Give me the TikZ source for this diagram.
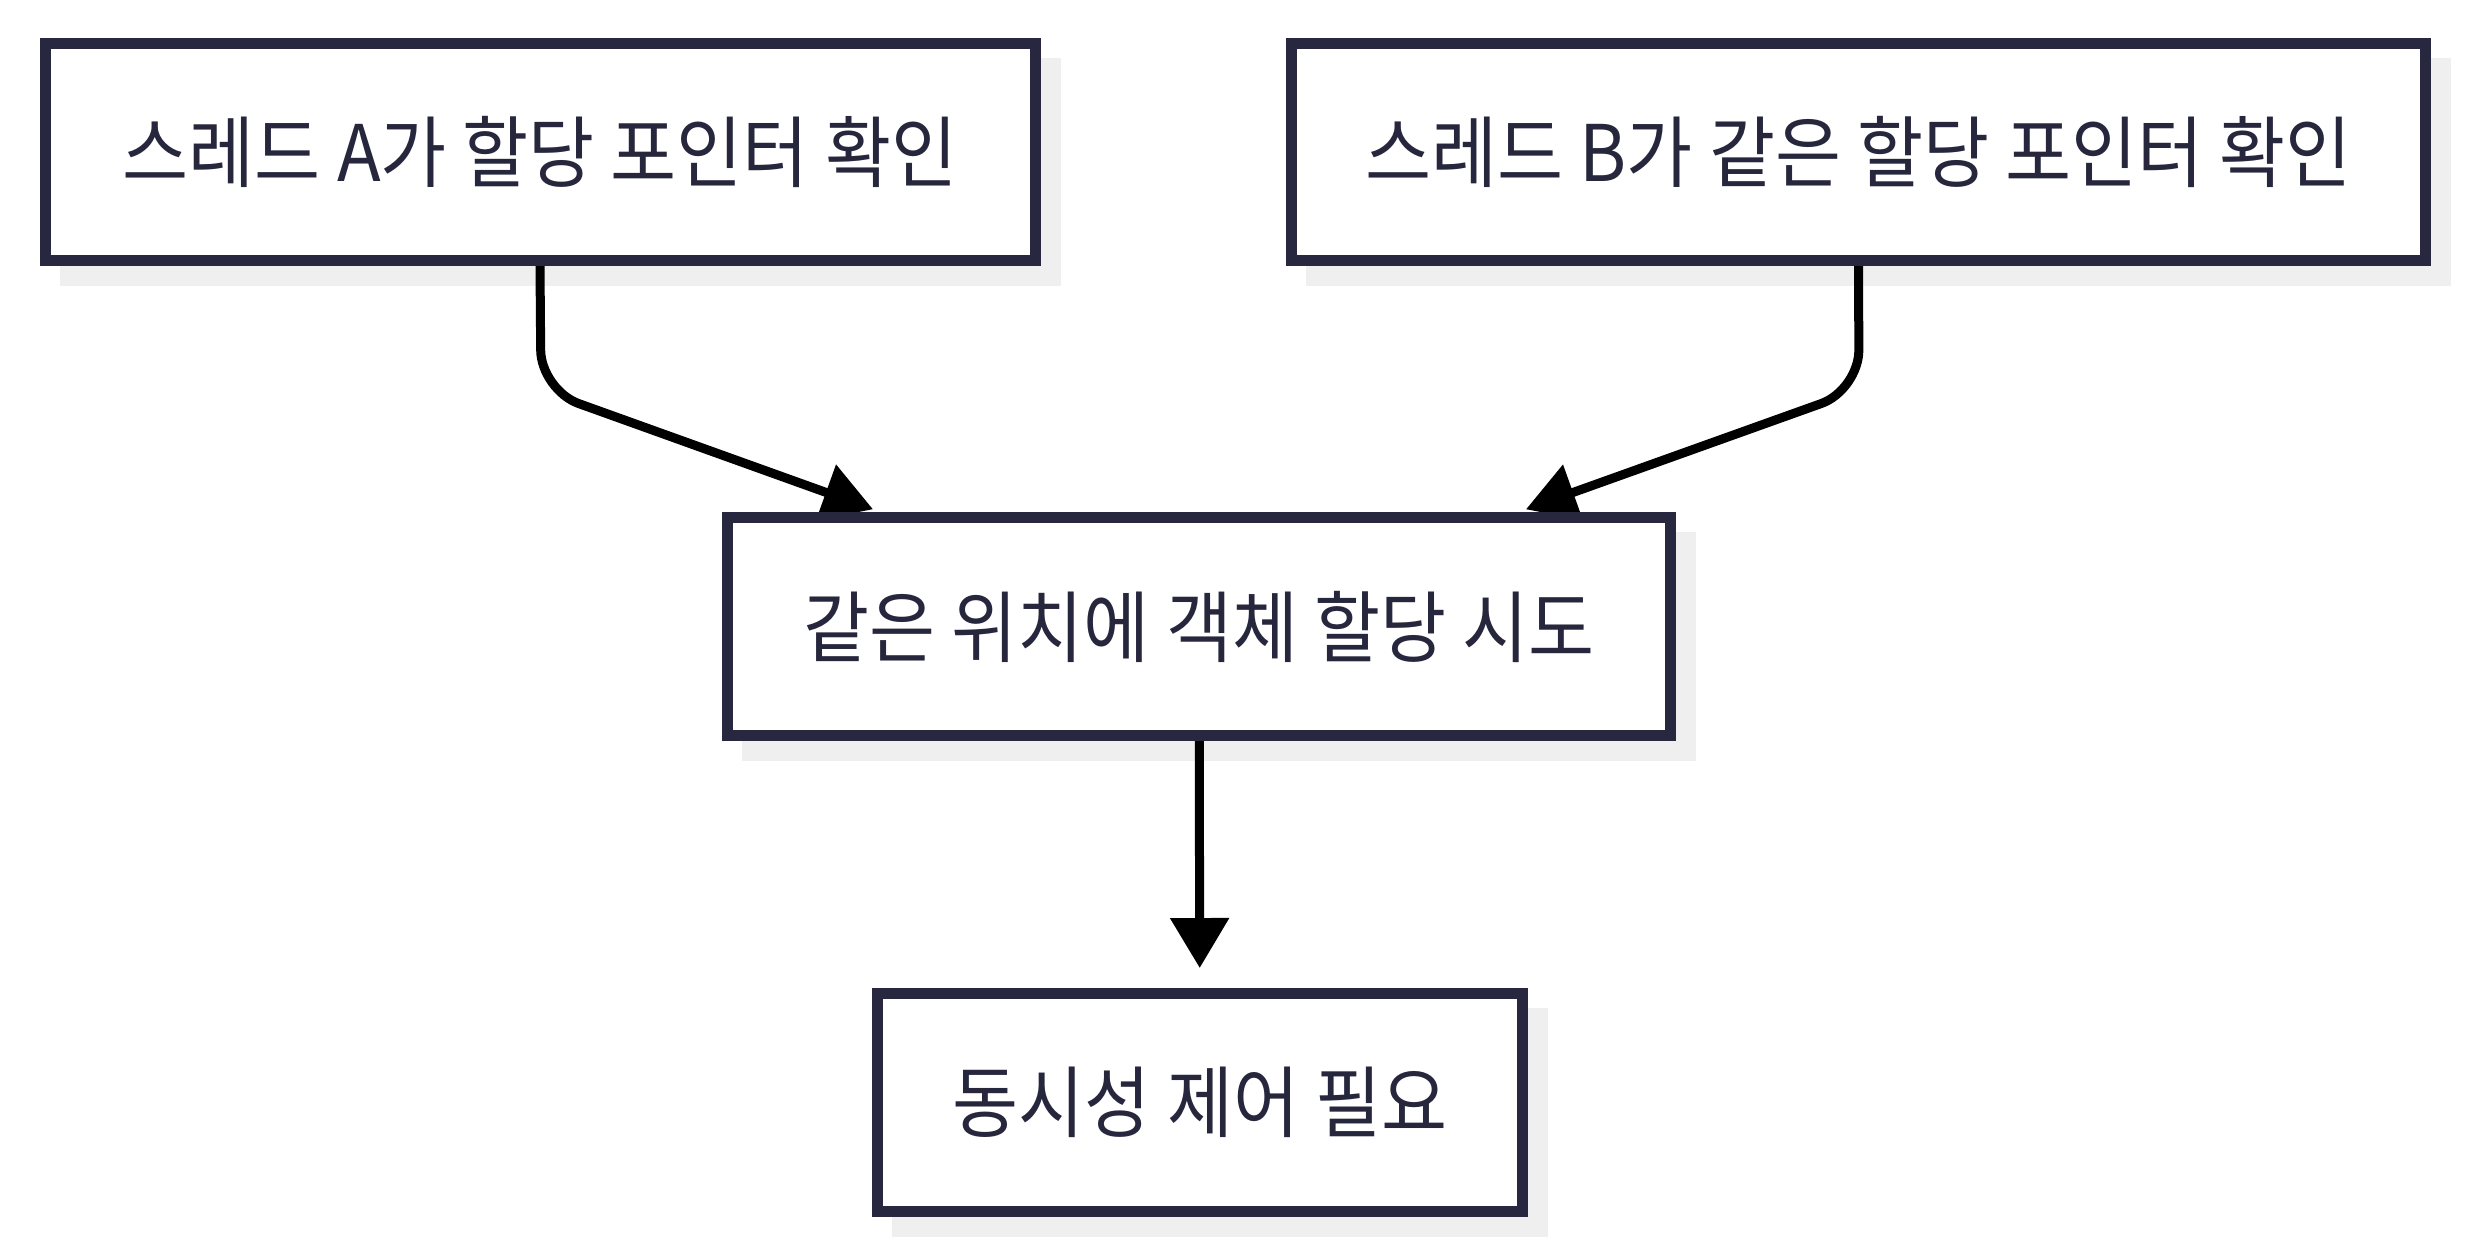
\documentclass[tikz,border=0pt]{standalone}
\usepackage{fontspec}
\newfontfamily\krfont{Noto Sans CJK KR}
\usetikzlibrary{arrows.meta}
\pgfdeclarelayer{bglayer}
\pgfdeclarelayer{shadowlayer}
\pgfdeclarelayer{edgelayer}
\pgfsetlayers{bglayer,shadowlayer,edgelayer,main}
\definecolor{boxline}{RGB}{39,39,64}
\definecolor{boxtext}{RGB}{38,38,60}
\definecolor{shadowc}{RGB}{239,239,239}
\newcommand{\krtxt}[1]{\scalebox{0.92}[1]{#1}}
\tikzset{
  box/.style={draw=boxline, line width=5.5pt, fill=white, inner sep=0pt,
    minimum height=108.5pt, text=boxtext,
    font=\krfont\fontsize{39pt}{47pt}\selectfont},
  edge/.style={draw=black, line width=4.5pt, -{Triangle[length=25pt,width=28.5pt]}},
  shadowbox/.style={fill=shadowc}
}
\begin{document}
\begin{tikzpicture}[x=0.5pt,y=-0.5pt]
\begin{pgfonlayer}{bglayer}
  \fill[white] (0,0) rectangle (2472,1255);
\end{pgfonlayer}
\useasboundingbox (0,0) rectangle (2472,1255);

\node[box, minimum width=495pt] (A) at (540,152) {\krtxt{스레드 A가 할당 포인터 확인}};
\node[box, minimum width=567pt] (B) at (1858.5,152) {\krtxt{스레드 B가 같은 할당 포인터 확인}};
\node[box, minimum width=471.5pt, minimum height=109pt] (C) at (1199,626.5) {\krtxt{같은 위치에 객체 할당 시도}};
\node[box, minimum width=322.5pt, minimum height=109pt] (D) at (1200,1102.5) {\krtxt{동시성 제어 필요}};

\coordinate (ca) at (541,390);
\coordinate (cb) at (1859,390);

\begin{pgfonlayer}{shadowlayer}
  \foreach \n in {A,B,C,D}{
    \fill[shadowbox] ([shift={(10pt,-10pt)}]\n.north west) rectangle ([shift={(10pt,-10pt)}]\n.south east);
  }
\end{pgfonlayer}

\begin{pgfonlayer}{edgelayer}
  \draw[edge, rounded corners=20pt, shorten >=4pt] (A.south) -- (ca) -- (C);
  \draw[edge, rounded corners=20pt, shorten >=4pt] (B.south) -- (cb) -- (C);
  \draw[edge, shorten >=10pt] (C) -- (D);
\end{pgfonlayer}
\end{tikzpicture}
\end{document}
